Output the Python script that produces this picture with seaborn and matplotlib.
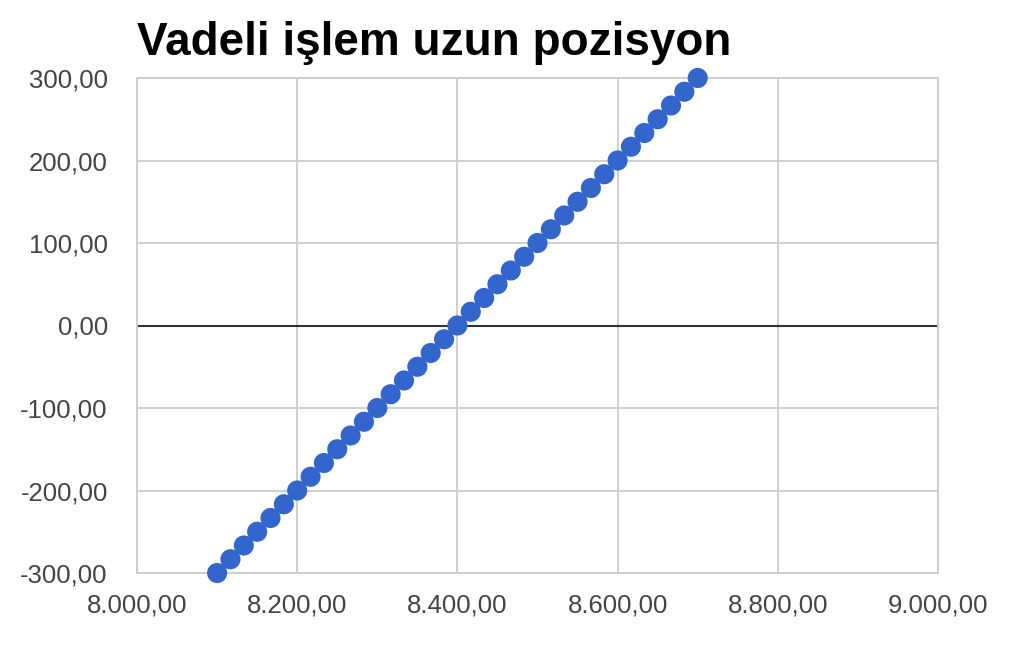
import matplotlib
matplotlib.use('Agg')
import matplotlib.pyplot as plt
import matplotlib.ticker as mticker
import pandas as pd
import seaborn as sns

# Data: futures price vs. long position profit/loss
prices = [8100.00, 8116.67, 8133.33, 8150.00, 8166.67, 8183.33, 8200.00, 8216.67,
          8233.33, 8250.00, 8266.67, 8283.33, 8300.00, 8316.67, 8333.33, 8350.00,
          8366.67, 8383.33, 8400.00, 8416.67, 8433.33, 8450.00, 8466.67, 8483.33,
          8500.00, 8516.67, 8533.33, 8550.00, 8566.67, 8583.33, 8600.00, 8616.67,
          8633.33, 8650.00, 8666.67, 8683.33, 8700.00]
profit = [-300.00, -283.33, -266.67, -250.00, -233.33, -216.67, -200.00, -183.33,
          -166.67, -150.00, -133.33, -116.67, -100.00, -83.33, -66.67, -50.00,
          -33.33, -16.67, 0.00, 16.67, 33.33, 50.00, 66.67, 83.33,
          100.00, 116.67, 133.33, 150.00, 166.67, 183.33, 200.00, 216.67,
          233.33, 250.00, 266.67, 283.33, 300.00]
x_ticks = [8000, 8200, 8400, 8600, 8800, 9000]
y_ticks = [-300, -200, -100, 0, 100, 200, 300]
title = 'Vadeli işlem uzun pozisyon'

df = pd.DataFrame({'fiyat': prices, 'kar': profit})

sns.set_style('white')
plt.rcParams['font.family'] = ['Liberation Sans', 'DejaVu Sans']

fig = plt.figure(figsize=(10.24, 6.52), dpi=100)
ax = fig.add_axes([137/1024, 1 - 573/652, (938-137)/1024, (573-78)/652])

ax.set_xlim(8000, 9000)
ax.set_ylim(-300, 300)
ax.set_xticks(x_ticks)
ax.set_yticks(y_ticks)
ax.grid(True, color='#cccccc', lw=1.3)
ax.set_axisbelow(True)
for s in ax.spines.values():
    s.set_color('#cccccc')
    s.set_linewidth(1.3)
ax.axhline(0, color='#333333', lw=1.5, zorder=1)

sns.scatterplot(data=df, x='fiyat', y='kar', ax=ax, s=210, color='#3366cc',
                edgecolor='none', zorder=3, clip_on=False)

fmt = lambda v, p: f'{v:,.2f}'.replace(',', 'X').replace('.', ',').replace('X', '.')
ax.xaxis.set_major_formatter(mticker.FuncFormatter(fmt))
ax.yaxis.set_major_formatter(mticker.FuncFormatter(fmt))
ax.tick_params(axis='both', length=0, labelsize=18.5, labelcolor='#444444')
ax.tick_params(axis='x', pad=15)
ax.tick_params(axis='y', pad=21)
ax.set_xlabel('')
ax.set_ylabel('')

fig.text(137/1024, 1 - 55/652, title, fontsize=33, fontweight='bold',
         ha='left', va='baseline', color='black')

fig.savefig('out.png', dpi=100)
